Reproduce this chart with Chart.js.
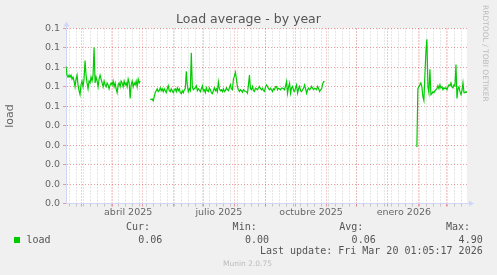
<!DOCTYPE html>
<html>
<head>
<meta charset="utf-8">
<title>Load average - by year</title>
<script src="https://cdn.jsdelivr.net/npm/chart.js@4.4.1/dist/chart.umd.min.js"></script>
<style>
  html, body { margin: 0; padding: 0; background: #f0f0f0; }
  canvas { display: block; }
</style>
</head>
<body>
<canvas id="loadChart" width="497" height="275"></canvas>
<script>

// one value per day, day 0 = 14/02/2025, graph spans 400 days
var dayCount = 400;

var seg1Start = 0;
var seg1Values = [
  0.0705, 0.066, 0.065, 0.066, 0.065, 0.066, 0.064, 0.065, 0.063, 0.060,
  0.064, 0.066, 0.061, 0.058, 0.056, 0.061, 0.063, 0.060, 0.064, 0.0735,
  0.066, 0.062, 0.059, 0.063, 0.062, 0.065, 0.063, 0.066, 0.0804, 0.062,
  0.065, 0.063, 0.060, 0.064, 0.066, 0.064, 0.062, 0.060, 0.063, 0.061,
  0.060, 0.062, 0.061, 0.059, 0.061, 0.062, 0.061, 0.063, 0.060, 0.062,
  0.059, 0.057, 0.061, 0.062, 0.060, 0.063, 0.062, 0.060, 0.063, 0.061,
  0.062, 0.060, 0.064, 0.062, 0.054, 0.061, 0.063, 0.060, 0.062, 0.061,
  0.063, 0.060, 0.064, 0.062, 0.063
];

var seg2Start = 84;
var seg2Values = [
  0.0537, 0.0535, 0.0537, 0.0528, 0.055, 0.057, 0.058, 0.059, 0.0575, 0.058,
  0.0595, 0.058, 0.059, 0.0575, 0.059, 0.058, 0.057, 0.059, 0.0605, 0.058,
  0.0575, 0.059, 0.058, 0.057, 0.0585, 0.059, 0.0575, 0.0595, 0.058, 0.059,
  0.057, 0.0565, 0.058, 0.057, 0.0585, 0.059, 0.068, 0.061, 0.0575, 0.059,
  0.058, 0.0775, 0.060, 0.0585, 0.059, 0.0595, 0.0605, 0.058, 0.059, 0.0585,
  0.0575, 0.059, 0.0605, 0.058, 0.0585, 0.057, 0.0595, 0.058, 0.0575, 0.0595,
  0.0585, 0.057, 0.0565, 0.058, 0.0595, 0.058, 0.059, 0.0575, 0.0625, 0.059,
  0.058, 0.0585, 0.0575, 0.059, 0.0575, 0.058, 0.0595, 0.0585, 0.058, 0.0595,
  0.061, 0.059, 0.0585, 0.064, 0.0655, 0.0675, 0.064, 0.060, 0.0585, 0.0576,
  0.0585, 0.058, 0.0572, 0.0585, 0.058, 0.0576, 0.0575, 0.0567, 0.061, 0.066,
  0.059, 0.0585, 0.0602, 0.058, 0.0576, 0.0593, 0.059, 0.0585, 0.0595, 0.0602,
  0.059, 0.0585, 0.0593, 0.058, 0.0576, 0.060, 0.061, 0.0602, 0.059, 0.0585,
  0.0593, 0.0585, 0.0576, 0.059, 0.0585, 0.060, 0.0602, 0.0585, 0.0593, 0.059,
  0.0585, 0.0593, 0.0593, 0.059, 0.0585, 0.0605, 0.0627, 0.0567, 0.060, 0.0619,
  0.0567, 0.0595, 0.0602, 0.058, 0.0576, 0.0595, 0.061, 0.0567, 0.059, 0.0602,
  0.058, 0.0576, 0.0585, 0.0593, 0.061, 0.059, 0.0567, 0.0585, 0.0593, 0.0585,
  0.059, 0.0602, 0.0593, 0.0585, 0.0593, 0.059, 0.0585, 0.0602, 0.059, 0.0576,
  0.0585, 0.059, 0.0615, 0.0627, 0.0627
];

var seg3Start = 350;
var seg3Values = [
  0.029, 0.059, 0.060, 0.061, 0.062, 0.060, 0.055, 0.053, 0.066, 0.078,
  0.0845, 0.060, 0.057, 0.069, 0.056, 0.0565, 0.0575, 0.057, 0.058, 0.0585,
  0.059, 0.0605, 0.059, 0.061, 0.0595, 0.060, 0.0585, 0.0595, 0.059, 0.0595,
  0.0585, 0.060, 0.061, 0.0605, 0.062, 0.060, 0.0595, 0.061, 0.0605, 0.0715,
  0.054, 0.059, 0.060, 0.0575, 0.056, 0.058, 0.062, 0.057, 0.057, 0.0575,
  0.057
];

// y axis
var yTickValues = [0, 0.01, 0.02, 0.03, 0.04, 0.05, 0.06, 0.07, 0.08, 0.09];
var yTickLabels = ["0.0", "0.0", "0.0", "0.0", "0.0", "0.1", "0.1", "0.1", "0.1", "0.1"];

// x axis (days since 14/02/2025)
var monthStartDays = [15, 46, 76, 107, 137, 168, 199, 229, 260, 290, 321, 352, 380];
var weekFirstDay = 3;
var monthLabelDays = [62, 152.5, 244.5, 337];
var monthLabels = ["abril 2025", "julio 2025", "octubre 2025", "enero 2026"];

// legend
var seriesName = "load";
var statHeaders = ["Cur:", "Min:", "Avg:", "Max:"];
var statValues = ["0.06", "0.00", "0.06", "4.90"];
var lastUpdate = "Last update: Fri Mar 20 01:05:17 2026";

var fontColor = "#666666";
var axisColor = "#CFD6F8";
var majorGrid = "rgba(222, 79, 79, 0.55)";
var minorGrid = "rgba(143, 143, 143, 0.45)";
var lineColor = "#00cc00";


function buildPoints() {

  var points = [];
  for (var d = 0; d <= dayCount; d++) {
    points.push({ x: d, y: null });
  }

  var segs = [[seg1Start, seg1Values], [seg2Start, seg2Values], [seg3Start, seg3Values]];
  for (var s = 0; s < segs.length; s++) {
    var start = segs[s][0];
    var vals = segs[s][1];
    for (var i = 0; i < vals.length; i++) {
      if (start + i <= dayCount) points[start + i].y = vals[i];
    }
  }

  return points;
}

function gridColor(ctx) {

  if (!ctx.tick) return minorGrid;
  if (ctx.tick.kind == "major") return majorGrid;
  if (ctx.tick.kind == "label") return "rgba(0,0,0,0)";
  return minorGrid;
}

// background, arrows and all the munin texts
var muninDecor = {

  id: "muninDecor",

  beforeDraw: function(chart) {
    var ctx = chart.ctx;
    var a = chart.chartArea;
    ctx.save();
    ctx.fillStyle = "#f0f0f0";
    ctx.fillRect(0, 0, chart.width, chart.height);
    ctx.fillStyle = "#ffffff";
    ctx.fillRect(a.left, a.top, a.right - a.left, a.bottom - a.top);
    ctx.restore();
  },

  afterDraw: function(chart) {
    var ctx = chart.ctx;
    var a = chart.chartArea;
    var x0 = Math.round(a.left) + 0.5;
    var y0 = Math.round(a.bottom) - 0.5;

    ctx.save();

    // axis arrows
    ctx.strokeStyle = axisColor;
    ctx.fillStyle = axisColor;
    ctx.lineWidth = 1;
    ctx.beginPath();
    ctx.moveTo(x0, a.top);
    ctx.lineTo(x0, a.top - 2);
    ctx.moveTo(a.right, y0);
    ctx.lineTo(a.right + 2, y0);
    ctx.stroke();

    ctx.beginPath();
    ctx.moveTo(x0, a.top - 7);
    ctx.lineTo(x0 - 3, a.top - 2);
    ctx.lineTo(x0 + 3, a.top - 2);
    ctx.closePath();
    ctx.fill();

    ctx.beginPath();
    ctx.moveTo(a.right + 7, y0);
    ctx.lineTo(a.right + 2, y0 - 3);
    ctx.lineTo(a.right + 2, y0 + 3);
    ctx.closePath();
    ctx.fill();

    // title
    ctx.fillStyle = "#555555";
    ctx.font = "12.5px 'DejaVu Sans'";
    ctx.textAlign = "center";
    ctx.textBaseline = "middle";
    ctx.fillText("Load average - by year", 248.5, 19.5);

    // watermark
    ctx.save();
    ctx.translate(485, 5);
    ctx.rotate(Math.PI / 2);
    ctx.fillStyle = "#bbbbbb";
    ctx.font = "7.5px 'DejaVu Sans'";
    ctx.textAlign = "left";
    ctx.textBaseline = "middle";
    ctx.fillText("RRDTOOL / TOBI OETIKER", 0, 0);
    ctx.restore();

    // legend
    ctx.fillStyle = lineColor;
    ctx.fillRect(14, 237, 6, 6);

    ctx.fillStyle = "#555555";
    ctx.font = "10px 'DejaVu Sans Mono'";
    ctx.textBaseline = "middle";
    ctx.textAlign = "left";
    ctx.fillText(seriesName, 26.5, 240);

    var headRight = [150, 256.7, 363.3, 470];
    var valRight = [162.3, 269, 375.7, 482.7];
    ctx.textAlign = "right";
    for (var i = 0; i < statHeaders.length; i++) {
      ctx.fillText(statHeaders[i], headRight[i], 227.7);
      ctx.fillText(statValues[i], valRight[i], 240);
    }
    ctx.fillText(lastUpdate, 482.7, 251.7);

    ctx.fillStyle = "#bbbbbb";
    ctx.font = "7.5px 'DejaVu Sans'";
    ctx.textAlign = "center";
    ctx.fillText("Munin 2.0.75", 247.5, 263.7);

    ctx.restore();
  }
};


function printLoadChart() {

  var ctx = document.getElementById("loadChart").getContext("2d");

  var chart = new Chart(ctx, {

    type: "line",

    data: {
      datasets: [{
        label: seriesName,
        data: buildPoints(),
        borderColor: lineColor,
        borderWidth: 1.2,
        pointRadius: 0,
        fill: false,
        tension: 0,
        spanGaps: false
      }]
    },

    options: {
      responsive: false,
      animation: false,
      devicePixelRatio: 1,
      layout: {
        padding: { left: 0, top: 28.5, right: 30, bottom: 49.5 }
      },
      plugins: {
        legend: { display: false },
        title: { display: false },
        tooltip: { enabled: false }
      },
      scales: {
        x: {
          type: "linear",
          min: 0,
          max: dayCount,
          afterBuildTicks: function(scale) {
            var ticks = [];
            for (var d = weekFirstDay; d < dayCount; d += 7) {
              ticks.push({ value: d, kind: "minor" });
            }
            for (var m = 0; m < monthStartDays.length; m++) {
              ticks.push({ value: monthStartDays[m], kind: "major" });
            }
            for (var l = 0; l < monthLabelDays.length; l++) {
              ticks.push({ value: monthLabelDays[l], kind: "label", text: monthLabels[l] });
            }
            ticks.sort(function(p, q) { return p.value - q.value; });
            scale.ticks = ticks;
          },
          afterFit: function(scale) {
            scale.height = 22;
          },
          grid: {
            color: gridColor,
            tickColor: gridColor,
            tickLength: 3,
            lineWidth: 1
          },
          border: {
            display: true,
            color: axisColor,
            dash: [1, 2]
          },
          ticks: {
            autoSkip: false,
            maxRotation: 0,
            minRotation: 0,
            padding: 0.5,
            color: fontColor,
            font: { family: "DejaVu Sans", size: 9.5 },
            callback: function(value, index, ticks) {
              return ticks[index].kind == "label" ? ticks[index].text : "";
            }
          }
        },
        y: {
          min: 0,
          max: 0.09,
          afterBuildTicks: function(scale) {
            var ticks = [];
            for (var i = 0; i < yTickValues.length; i++) {
              ticks.push({ value: yTickValues[i], kind: "major", text: yTickLabels[i] });
              if (i < yTickValues.length - 1) {
                ticks.push({ value: (yTickValues[i] + yTickValues[i + 1]) / 2, kind: "minor" });
              }
            }
            scale.ticks = ticks;
          },
          afterFit: function(scale) {
            scale.width = 66;
          },
          title: {
            display: true,
            text: "load",
            color: fontColor,
            font: { family: "DejaVu Sans", size: 11 },
            padding: { top: 4, bottom: 0 }
          },
          grid: {
            color: gridColor,
            tickColor: gridColor,
            tickLength: 3,
            lineWidth: 1
          },
          border: {
            display: true,
            color: axisColor,
            dash: [1, 2]
          },
          ticks: {
            padding: 3,
            color: fontColor,
            font: { family: "DejaVu Sans", size: 9.5 },
            callback: function(value, index, ticks) {
              return ticks[index].kind == "major" ? ticks[index].text : "";
            }
          }
        }
      }
    },

    plugins: [muninDecor]
  });

  return chart;
}

printLoadChart();

</script>
</body>
</html>
